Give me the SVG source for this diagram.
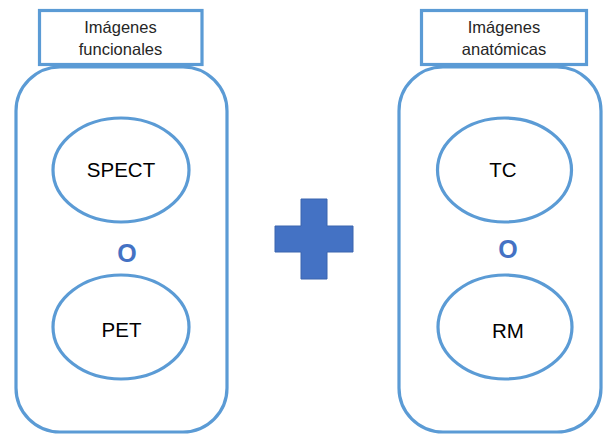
<svg xmlns="http://www.w3.org/2000/svg" width="604" height="435" viewBox="0 0 604 435">
  <style>
    .frame { fill: #ffffff; stroke: #5B9BD5; stroke-width: 3.2; }
    .title { font-family: "Liberation Sans", Arial, sans-serif; font-size: 16.5px; fill: #262626; text-anchor: middle; }
    .label { font-family: "Liberation Sans", Arial, sans-serif; font-size: 20.5px; fill: #000000; text-anchor: middle; }
    .or { font-family: "Liberation Sans", Arial, sans-serif; font-size: 25px; font-weight: bold; fill: #4472C4; text-anchor: middle; }
  </style>
  <rect width="604" height="435" fill="#ffffff"/>

  <!-- Functional imaging group -->
  <g id="functional">
    <rect class="frame" x="16" y="67" width="211" height="365" rx="44" ry="44"/>
    <rect class="frame" x="39.5" y="10.5" width="162.5" height="54"/>
    <text class="title" x="120.5" y="33">Imágenes</text>
    <text class="title" x="120.5" y="55">funcionales</text>
  </g>
  <g id="spect">
    <ellipse class="frame" cx="121" cy="170" rx="68" ry="52"/>
    <text class="label" x="121" y="177">SPECT</text>
  </g>
  <text class="or" x="127" y="262">O</text>
  <g id="pet">
    <ellipse class="frame" cx="121" cy="327" rx="68" ry="52"/>
    <text class="label" x="121.5" y="337">PET</text>
  </g>

  <!-- Plus sign -->
  <g id="plus">
    <path d="M301 199 H327 V226 H353 V252 H327 V279 H301 V252 H275 V226 H301 Z" fill="#4472C4" stroke="#3A64AE" stroke-width="1"/>
  </g>

  <!-- Anatomical imaging group -->
  <g id="anatomical">
    <rect class="frame" x="399" y="67" width="202" height="365" rx="44" ry="44"/>
    <rect class="frame" x="421.5" y="10.5" width="165" height="54"/>
    <text class="title" x="504" y="33">Imágenes</text>
    <text class="title" x="504" y="55">anatómicas</text>
  </g>
  <g id="tc">
    <ellipse class="frame" cx="504.5" cy="170" rx="67" ry="52"/>
    <text class="label" x="503" y="177">TC</text>
  </g>
  <text class="or" x="508" y="258">O</text>
  <g id="rm">
    <ellipse class="frame" cx="505" cy="327" rx="67" ry="52"/>
    <text class="label" x="508" y="338">RM</text>
  </g>

  <!-- no connectors between nodes -->
  <g id="connectors"/>
</svg>
